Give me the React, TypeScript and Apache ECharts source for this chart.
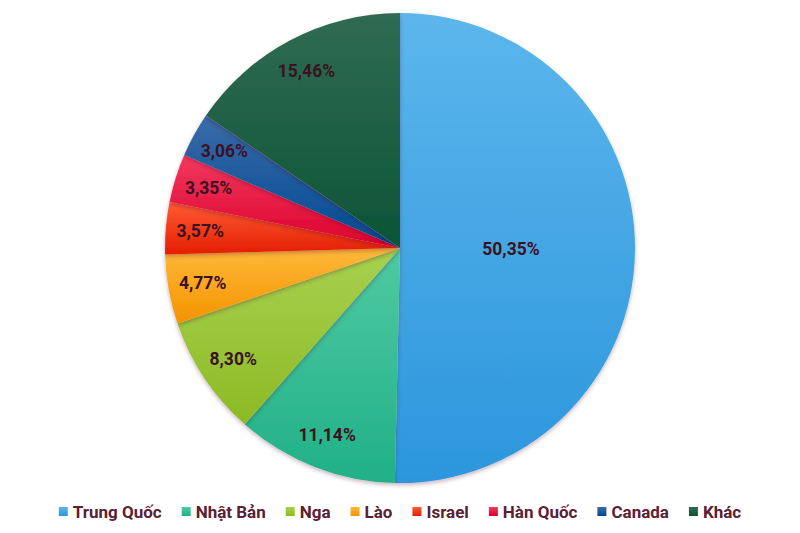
import React, { useEffect, useRef } from "react";
import * as echarts from "echarts";

const categories = ["Trung Quốc", "Nhật Bản", "Nga", "Lào", "Israel", "Hàn Quốc", "Canada", "Khác"];
const shares = [50.35, 11.14, 8.3, 4.77, 3.57, 3.35, 3.06, 15.46];
const topColors = ["#5cb6ec", "#4fcaa2", "#a8d150", "#ffb93a", "#ff5c34", "#f23a5e", "#3b6ba9", "#306b53"];
const bottomColors = ["#2c96dc", "#20b087", "#8cba24", "#f39300", "#e41e00", "#dc002c", "#004890", "#0c5436"];

const fmt = (v: number) => v.toFixed(2).replace(".", ",") + "%";

export default function App() {
  const ref = useRef<HTMLDivElement>(null);
  useEffect(() => {
    if (!ref.current) return;
    const chart = echarts.init(ref.current, undefined, { renderer: "svg" });
    const labelStyle = {
      color: "#3b1222",
      fontFamily: "Roboto",
      fontWeight: "bold" as const,
      fontSize: 17.5,
    };
    const mainData = categories.map((name, i) => ({
      name,
      value: shares[i],
      itemStyle: {
        color: new echarts.graphic.LinearGradient(0, 0, 0, 1, [
          { offset: 0, color: topColors[i] },
          { offset: 1, color: bottomColors[i] },
        ]),
      },
    }));
    const overlay = (radius: number[], showIdx: (i: number) => boolean) => ({
      type: "pie",
      center: [400, 248],
      radius,
      startAngle: 90,
      clockwise: true,
      silent: true,
      avoidLabelOverlap: false,
      label: {
        position: "inside",
        formatter: (p: any) => fmt(p.value),
        ...labelStyle,
      },
      labelLine: { show: false },
      itemStyle: { color: "rgba(0,0,0,0)", shadowBlur: 0 },
      emphasis: { disabled: true },
      data: categories.map((name, i) => ({
        name,
        value: shares[i],
        label: { show: showIdx(i) },
      })),
    });
    chart.setOption({
      animation: false,
      legend: {
        bottom: 8,
        left: "center",
        icon: "rect",
        itemWidth: 9,
        itemHeight: 9,
        itemGap: 20,
        data: categories,
        textStyle: {
          color: "#5a2034",
          fontFamily: "Roboto",
          fontWeight: "bold",
          fontSize: 17,
        },
      },
      series: [
        {
          type: "pie",
          center: [400, 248],
          radius: [0, 235],
          startAngle: 90,
          clockwise: true,
          avoidLabelOverlap: false,
          label: { show: false },
          labelLine: { show: false },
          itemStyle: {
            shadowBlur: 4,
            shadowOffsetY: 2,
            shadowColor: "rgba(70,0,40,0.3)",
          },
          emphasis: { disabled: true },
          data: mainData,
        },
        overlay([0, 216], (i) => i === 0),
        overlay([160, 235], (i) => i !== 0),
      ],
    });
    return () => chart.dispose();
  }, []);
  return (
    <div
      ref={ref}
      style={{ position: "fixed", left: 0, top: 0, width: 800, height: 533, background: "#fff" }}
    />
  );
}
